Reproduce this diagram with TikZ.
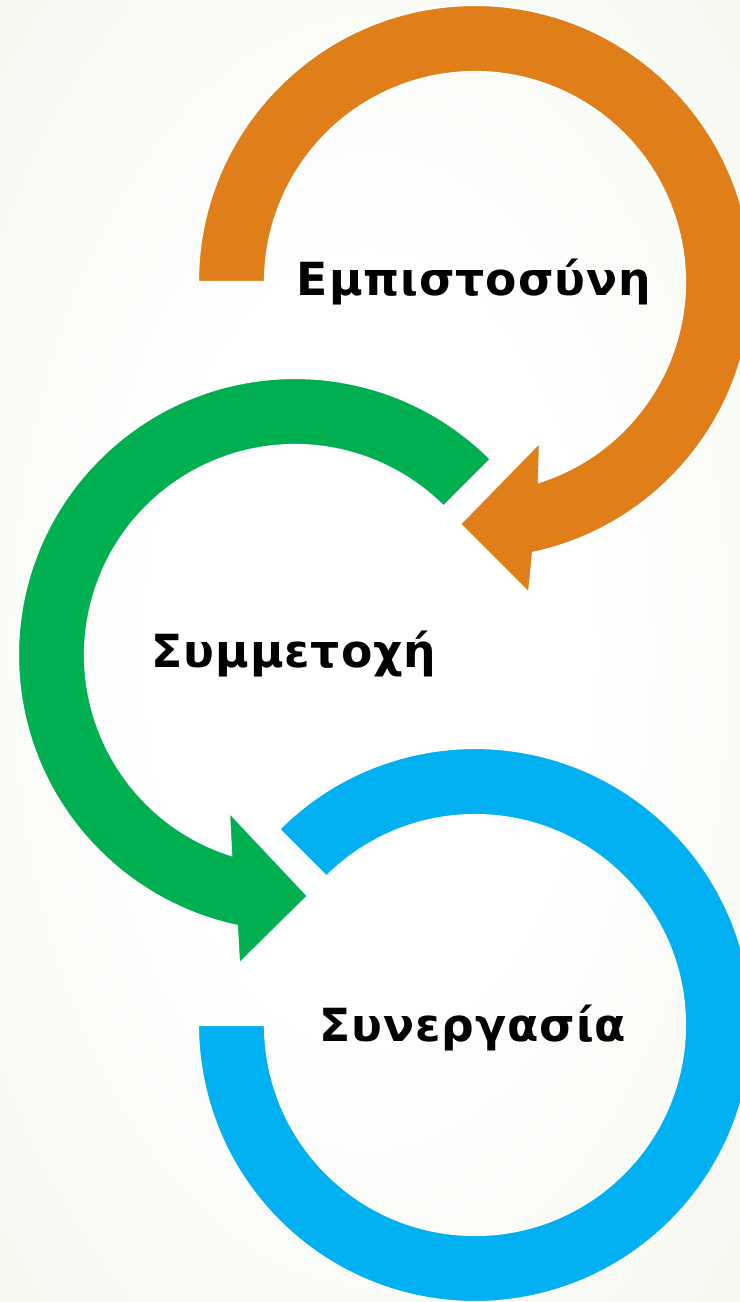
\documentclass[tikz,border=0pt]{standalone}
\usepackage{fontspec}
\setmainfont{DejaVu Sans}
\newfontfamily\wordfont[LetterSpace=2]{DejaVu Sans}
\usetikzlibrary{calc}
\definecolor{trustorange}{RGB}{224,127,26}
\definecolor{partgreen}{RGB}{0,176,80}
\definecolor{coopblue}{RGB}{0,176,240}
\definecolor{paper}{RGB}{238,243,228}
\pgfdeclareradialshading{paperglow}{\pgfpoint{0bp}{0bp}}{color(0bp)=(white); color(14bp)=(white); color(50bp)=(paper)}
\tikzset{ring/.style={draw=white, line width=1.2pt}}
\tikzset{word/.style={font=\wordfont\fontsize{26}{30}\selectfont\bfseries, anchor=base, inner sep=0pt}}

\begin{document}
\begin{tikzpicture} [x=0.02cm, y=0.02cm]
\useasboundingbox (0,0) rectangle (740,-1302);
\clip (0,0) rectangle (740,-1302);
\shade[shading=paperglow] (0,0) rectangle (740,-1302);
% ring centres
\coordinate (c1) at (475,-282);
\coordinate (c2) at (295,-655);
\coordinate (c3) at (475,-1025);
% orange ring, clockwise into the green one
\fill[trustorange, ring] ($(c1)+(180:277)$) arc[start angle=180, end angle=-77.9, radius=277]
 -- (529,-593) -- (460,-524) -- (540,-442)
 -- ($(c1)+(-72.3:210)$) arc[start angle=-72.3, end angle=180, radius=210] -- cycle;
% green ring, counter clockwise into the blue one
\fill[partgreen, ring] ($(c2)+(45:277)$) arc[start angle=45, end angle=257.9, radius=277]
 -- (239,-964) -- (308,-896) -- (229,-812)
 -- ($(c2)+(252.3:210)$) arc[start angle=252.3, end angle=45, radius=210] -- cycle;
% blue ring
\fill[coopblue, ring] ($(c3)+(135:277)$) arc[start angle=135, end angle=-180, radius=277]
 -- ($(c3)+(180:210)$) arc[start angle=-180, end angle=135, radius=210] -- cycle;
\node[word] (trust) at (474,-295) {Εμπιστοσύνη};
\node[word] (part) at (294,-667) {Συμμετοχή};
\node[word] (coop) at (473,-1041) {Συνεργασία};
\end{tikzpicture}
\end{document}
